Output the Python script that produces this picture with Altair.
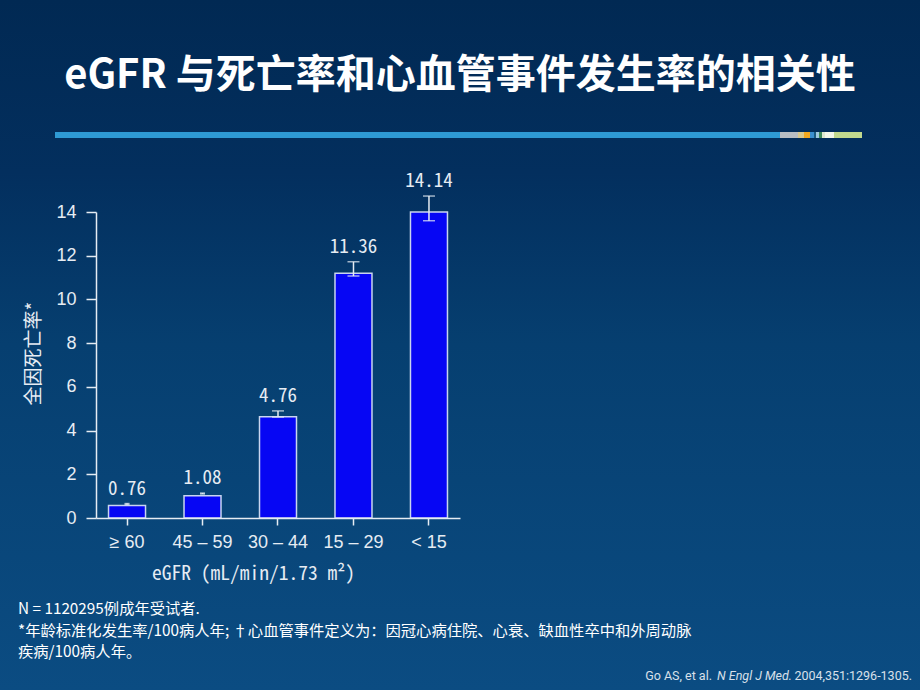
import altair as alt
import pandas as pd

# ---- data ----
categories = ["≥ 60", "45 – 59", "30 – 44", "15 – 29", "< 15"]
value_labels = ["0.76", "1.08", "4.76", "11.36", "14.14"]
bar_heights = [0.57, 1.02, 4.63, 11.20, 14.00]
err_low = [0.62, 1.10, 4.62, 11.07, 13.60]
err_high = [0.66, 1.14, 4.90, 11.72, 14.73]

title_text = "eGFR 与死亡率和心血管事件发生率的相关性"
y_title = "全因死亡率*"
x_title = "eGFR (mL/min/1.73 m²)"
foot_lines = [
    "N = 1120295例成年受试者.",
    "*年龄标准化发生率/100病人年; †心血管事件定义为：因冠心病住院、心衰、缺血性卒中和外周动脉",
    "疾病/100病人年。",
]
cite_parts = ["Go AS, et al.", "N Engl J Med.", "2004,351:1296-1305."]

df = pd.DataFrame({
    "cat": categories,
    "lab": value_labels,
    "h": bar_heights,
    "lo": err_low,
    "hi": err_high,
})

MONO = "Noto Sans Mono CJK SC, DejaVu Sans Mono, monospace"
SANS = "Liberation Sans, Arial, sans-serif"
CJK = "Noto Sans CJK SC"
FG = "#e6ecf3"

# plot origin in page: (96, 212)
OX, OY = 96, 212
one = pd.DataFrame({"a": [0]})

bg = alt.Chart(one).mark_rect(
    color=alt.LinearGradient(
        gradient="linear", x1=0, x2=0, y1=0, y2=1,
        stops=[
            alt.GradientStop(offset=0, color="#012953"),
            alt.GradientStop(offset=0.25, color="#032f5e"),
            alt.GradientStop(offset=0.5, color="#063f70"),
            alt.GradientStop(offset=1, color="#0b4c82"),
        ],
    )
).encode(
    x=alt.value(-OX), x2=alt.value(920 - OX),
    y=alt.value(-OY), y2=alt.value(690 - OY),
)

# decorative stripe under the title
segments = [
    (55, 780, "#2e9ad4"), (780, 798, "#b9bec4"), (798, 804, "#d9c98f"),
    (804, 810, "#f2a920"), (810, 814, "#3a8fd0"), (814, 816, "#1a5a80"),
    (816, 819, "#9fc8e0"), (819, 822, "#3f8a5a"), (822, 825, "#dfe8d0"),
    (825, 834, "#f4f8ea"), (834, 862, "#c2d98e"),
]
stripe_layers = [
    alt.Chart(one).mark_rect(color=c).encode(
        x=alt.value(a - OX), x2=alt.value(b - OX),
        y=alt.value(132 - OY), y2=alt.value(138 - OY),
    )
    for a, b, c in segments
]

title = alt.Chart(one).mark_text(
    text=title_text, font=CJK, fontSize=40, fontWeight="bold", color="#ffffff",
    align="center", baseline="middle",
).encode(x=alt.value(460 - OX), y=alt.value(76 - OY))

foot_y = [609, 631, 652]
foots = [
    alt.Chart(one).mark_text(
        text=t, font=CJK, fontSize=15.3, color="#ffffff", align="left", baseline="middle",
    ).encode(x=alt.value(18 - OX), y=alt.value(yy - OY))
    for t, yy in zip(foot_lines, foot_y)
]

cite_right = [712, 792, 912]
cite_style = ["normal", "italic", "normal"]
cites = [
    alt.Chart(one).mark_text(
        text=t, font="Roboto", fontSize=12.5, fontStyle=s,
        color="#d8e0ea", align="right", baseline="middle",
    ).encode(x=alt.value(xx - OX), y=alt.value(676 - OY))
    for t, xx, s in zip(cite_parts, cite_right, cite_style)
]

xenc = alt.X(
    "cat:N", sort=categories,
    scale=alt.Scale(paddingInner=0.51, paddingOuter=0.166),
    axis=alt.Axis(
        title=x_title, labelAngle=0, labelFont=SANS, labelFontSize=18, labelColor=FG,
        labelPadding=8, tickSize=7, tickColor=FG, tickWidth=1.5,
        domainColor=FG, domainWidth=1.5, zindex=2,
        titleFont=MONO, titleFontSize=19.5, titleFontWeight="normal", titleColor=FG,
        titleX=157, titleY=55, titleBaseline="middle", titleAlign="center",
    ),
)

bars = alt.Chart(df).mark_bar(
    color="#0606f4", stroke="#c9d5ef", strokeWidth=1.5,
).encode(
    x=xenc,
    y=alt.Y(
        "h:Q", scale=alt.Scale(domain=[0, 14], nice=False),
        axis=alt.Axis(
            values=[0, 2, 4, 6, 8, 10, 12, 14], grid=False,
            labelFont=SANS, labelFontSize=18, labelColor=FG, labelPadding=10,
            tickSize=10, tickColor=FG, tickWidth=1.5,
            domainColor=FG, domainWidth=1.5, zindex=2,
            title=y_title, titleFont=CJK, titleFontSize=19, titleFontWeight="normal",
            titleColor=FG, titleAngle=270, titleX=-63, titleY=141,
            titleAlign="center", titleBaseline="middle",
        ),
    ),
)

err = alt.Chart(df).mark_rule(color=FG, strokeWidth=1.5).encode(
    x=alt.X("cat:N", sort=categories), y="lo:Q", y2="hi:Q",
)

cap_size = alt.condition("datum.hi - datum.lo < 0.2", alt.value(5), alt.value(12))
cap_lo = alt.Chart(df).mark_tick(color=FG, thickness=1.5).encode(
    x=alt.X("cat:N", sort=categories), y="lo:Q", size=cap_size,
)
cap_hi = alt.Chart(df).mark_tick(color=FG, thickness=1.5).encode(
    x=alt.X("cat:N", sort=categories), y="hi:Q", size=cap_size,
)

labels = alt.Chart(df).mark_text(
    dy=-15, baseline="middle", align="center", font=MONO, fontSize=19, color=FG,
).encode(
    x=alt.X("cat:N", sort=categories), y="hi:Q", text="lab:N",
)

chart = alt.layer(
    bg, *stripe_layers, title, *foots, *cites, bars, err, cap_lo, cap_hi, labels,
).properties(
    width=364, height=306,
    padding={"left": OX, "top": OY, "right": 920 - OX - 364, "bottom": 690 - OY - 306},
    autosize=alt.AutoSizeParams(type="none"),
    background="#063f70",
).configure_view(strokeWidth=0)

chart.save("out.html", embed_options={"renderer": "svg", "actions": False})
